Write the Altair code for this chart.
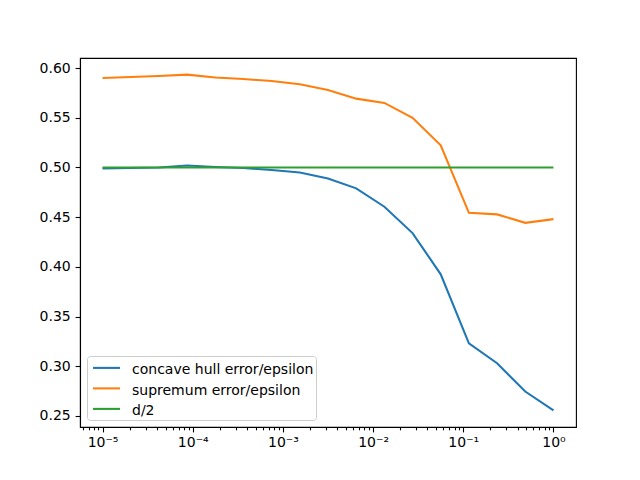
import altair as alt
import pandas as pd

# ---- data ----
EPS = [1.0e-5, 2.054e-5, 4.217e-5, 8.660e-5, 1.778e-4, 3.652e-4, 7.499e-4,
       1.540e-3, 3.162e-3, 6.494e-3, 1.334e-2, 2.738e-2, 5.623e-2,
       0.1155, 0.2371, 0.4870, 1.0]
CONCAVE = [0.499, 0.4995, 0.500, 0.502, 0.5005, 0.4995, 0.4975, 0.495, 0.489,
           0.479, 0.4605, 0.434, 0.3925, 0.323, 0.303, 0.2745, 0.2555]
SUPREMUM = [0.590, 0.591, 0.592, 0.5935, 0.5905, 0.589, 0.587, 0.5837, 0.578,
            0.5693, 0.565, 0.550, 0.5224, 0.4544, 0.4528, 0.4443, 0.448]
HALF_D = [0.5] * len(EPS)

SERIES = ["concave hull error/epsilon", "supremum error/epsilon", "d/2"]
COLORS = ["#1f77b4", "#ff7f0e", "#2ca02c"]

X_MAJOR = [1e-5, 1e-4, 1e-3, 1e-2, 1e-1, 1.0]
X_LABELS = ["10⁻⁵", "10⁻⁴", "10⁻³", "10⁻²", "10⁻¹", "10⁰"]
X_MINOR = [m * 10.0 ** k for k in range(-6, 0) for m in range(2, 10)]
X_MINOR = [v for v in X_MINOR if v >= 5.7e-6]
Y_TICKS = [0.25, 0.30, 0.35, 0.40, 0.45, 0.50, 0.55, 0.60]

rows = []
for name, vals in zip(SERIES, [CONCAVE, SUPREMUM, HALF_D]):
    for e, v in zip(EPS, vals):
        rows.append({"eps": e, "value": v, "series": name})
df = pd.DataFrame(rows)
df_green = df[df["series"] == "d/2"]

FONT = "DejaVu Sans"
xscale = alt.Scale(type="log", domain=[10 ** -5.25, 10 ** 0.25], nice=False)
yscale = alt.Scale(domain=[0.2388, 0.6102], nice=False, zero=False)

label_arr = "[" + ",".join("'" + s + "'" for s in X_LABELS) + "]"
major_axis = alt.Axis(values=X_MAJOR, orient="bottom", title=None, grid=False,
                      labelExpr=label_arr + "[round(log(datum.value)/LN10)+5]",
                      tickSize=4.9, labelPadding=3.5, labelFontSize=14,
                      labelFont=FONT, labelFlush=False)
minor_axis = alt.Axis(values=X_MINOR, orient="bottom", title=None, grid=False,
                      labels=False, tickSize=2.8, domain=False)
y_axis = alt.Axis(values=Y_TICKS, format=".2f", title=None, grid=False,
                  tickSize=4.9, labelPadding=4.9, labelFontSize=14,
                  labelFont=FONT)

lines = alt.Chart(df).mark_line(strokeWidth=2.08, clip=True).encode(
    x=alt.X("eps:Q", scale=xscale, axis=major_axis),
    y=alt.Y("value:Q", scale=yscale, axis=y_axis),
    color=alt.Color("series:N",
                    scale=alt.Scale(domain=SERIES, range=COLORS),
                    sort=SERIES,
                    legend=alt.Legend(title=None, orient="bottom-left",
                                      offset=7, fillColor="white",
                                      strokeColor="#cccccc", cornerRadius=3,
                                      padding=2, rowPadding=1.5,
                                      symbolType="M-0.76,-0.2H1.81",
                                      symbolSize=441, symbolStrokeWidth=2.08,
                                      labelFont=FONT, labelFontSize=14,
                                      labelOffset=19, labelColor="black",
                                      labelLimit=0, labelBaseline="middle")),
)

minor = alt.Chart(df_green).mark_line(opacity=0).encode(
    x=alt.X("eps:Q", scale=xscale, axis=minor_axis),
    y=alt.Y("value:Q", scale=yscale, axis=y_axis),
)

chart = alt.layer(lines, minor).resolve_axis(x="independent").resolve_scale(
    x="shared"
).properties(
    width=496, height=369,
    padding={"left": 72, "top": 50, "right": 56, "bottom": 45},
    autosize=alt.AutoSizeParams(type="none"),
    background="white",
).configure_view(
    stroke="black", strokeWidth=1.1
).configure_axis(
    domainColor="black", domainWidth=1.1, tickColor="black", tickWidth=1.1,
    labelColor="black"
)

chart.save("out.html", embed_options={"renderer": "svg", "actions": False})
